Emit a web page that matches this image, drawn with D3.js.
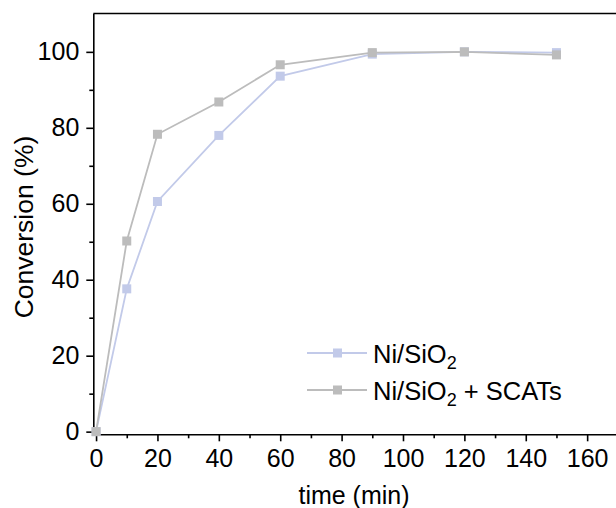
<!DOCTYPE html>
<html>
<head>
<meta charset="utf-8">
<script src="https://cdn.jsdelivr.net/npm/d3@7"></script>
<style>
  body { margin: 0; background: #fff; }
  svg text { font-family: "Liberation Sans", Arial, sans-serif; fill: #000; }
</style>
</head>
<body>
<svg id="chart" width="616" height="508"></svg>
<script>
const times = [0, 10, 20, 40, 60, 90, 120, 150];
const niSiO2 = [0, 37.6, 60.6, 78, 93.6, 99.4, 100, 99.8];
const niSiO2Scats = [0, 50.2, 78.3, 86.8, 96.6, 99.8, 100, 99.2];
const seriesNames = ['Ni/SiO2', 'Ni/SiO2 + SCATs'];
const seriesColors = ['#c2cae9', '#bcbcbc'];
const xTicks = [0, 20, 40, 60, 80, 100, 120, 140, 160];
const yTicks = [0, 20, 40, 60, 80, 100];

const svg = d3.select('#chart');
const x = d3.scaleLinear().domain([-0.9, 169.4]).range([93.3, 616]);
const y = d3.scaleLinear().domain([-0.7, 110.1]).range([434.3, 13.5]);

// minor ticks
const xMinor = d3.range(10, 170, 20);
const yMinor = d3.range(10, 110, 20);

svg.append('g').attr('transform', `translate(0,${y.range()[0]})`)
    .call(d3.axisBottom(x).tickValues(xTicks).tickSize(7).tickPadding(8).tickSizeOuter(0));
svg.append('g').attr('transform', `translate(0,${y.range()[0]})`)
    .call(d3.axisBottom(x).tickValues(xMinor).tickSize(4).tickFormat('').tickSizeOuter(0))
    .select('.domain').remove();

svg.append('g').attr('transform', `translate(${x.range()[0]},0)`)
    .call(d3.axisLeft(y).tickValues(yTicks).tickSize(7).tickPadding(7).tickSizeOuter(0));
svg.append('g').attr('transform', `translate(${x.range()[0]},0)`)
    .call(d3.axisLeft(y).tickValues(yMinor).tickSize(4).tickFormat('').tickSizeOuter(0))
    .select('.domain').remove();

svg.selectAll('.domain, .tick line').attr('stroke', '#000').attr('stroke-width', 1.6);
svg.selectAll('.tick text').attr('font-size', 25).style('font-family', '"Liberation Sans", Arial, sans-serif');

// top frame
svg.append('line').attr('x1', x.range()[0]).attr('x2', 616)
    .attr('y1', y.range()[1]).attr('y2', y.range()[1])
    .attr('stroke', '#000').attr('stroke-width', 1.6);

// axis titles
svg.append('text').attr('x', 354).attr('y', 504).attr('text-anchor', 'middle')
    .attr('font-size', 25).text('time (min)');
svg.append('text').attr('transform', 'translate(33,227) rotate(-90)')
    .attr('text-anchor', 'middle').attr('font-size', 26.5).text('Conversion (%)');

const line = d3.line().x((d, i) => x(times[i])).y(d => y(d));
[niSiO2, niSiO2Scats].forEach((vals, s) => {
    svg.append('path').datum(vals).attr('fill', 'none')
        .attr('stroke', seriesColors[s]).attr('stroke-width', 1.8).attr('d', line);
    svg.selectAll(null).data(vals).enter().append('rect')
        .attr('x', (d, i) => x(times[i]) - 4.5).attr('y', d => y(d) - 4.5)
        .attr('width', 9).attr('height', 9).attr('fill', seriesColors[s]);
});

// legend
const legendRows = [353, 390];
seriesNames.forEach((name, s) => {
    const g = svg.append('g').attr('transform', `translate(307,${legendRows[s]})`);
    g.append('line').attr('x1', 0).attr('x2', 60).attr('stroke', seriesColors[s]).attr('stroke-width', 1.8);
    g.append('rect').attr('x', 26).attr('y', -4.5).attr('width', 9).attr('height', 9).attr('fill', seriesColors[s]);
    const t = g.append('text').attr('x', 66).attr('y', 10).attr('font-size', 25.5);
    t.append('tspan').text('Ni/SiO');
    t.append('tspan').attr('font-size', 18).attr('dy', 6).text('2');
    if (s === 1) t.append('tspan').attr('dy', -6).text(' + SCATs');
});
</script>
</body>
</html>
